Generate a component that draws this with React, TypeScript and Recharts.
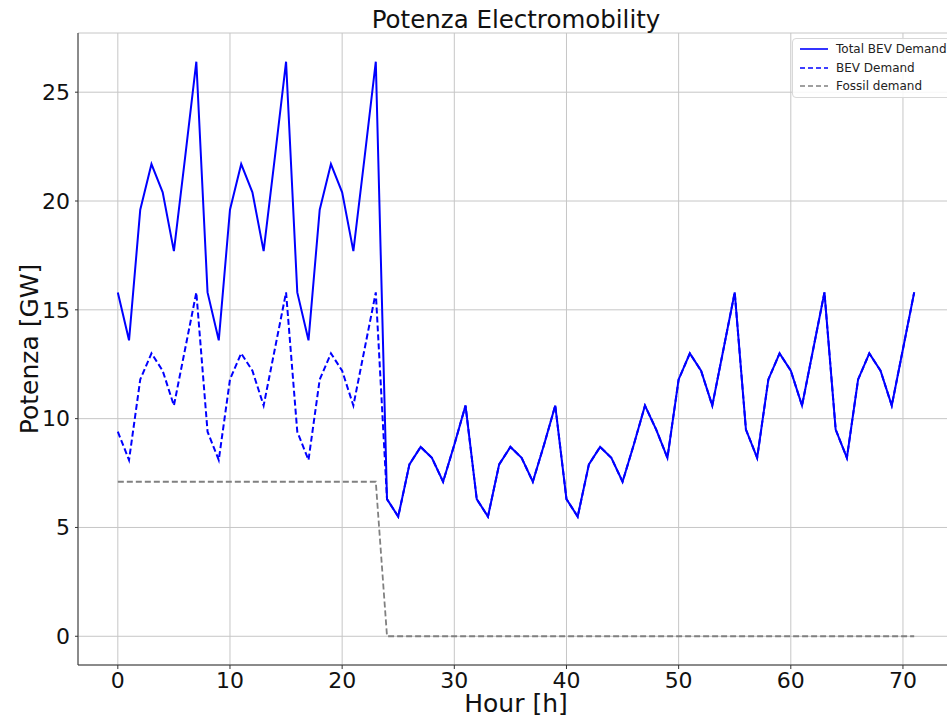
import {
  LineChart,
  Line,
  XAxis,
  YAxis,
  CartesianGrid,
} from "recharts";

// Hourly demand (GW), hours 0..71
const totalDemand = [
  15.8, 13.6, 19.6, 21.7, 20.4, 17.7, 22.0, 26.4,
  15.8, 13.6, 19.6, 21.7, 20.4, 17.7, 22.0, 26.4,
  15.8, 13.6, 19.6, 21.7, 20.4, 17.7, 22.0, 26.4,
  6.3, 5.5, 7.9, 8.7, 8.2, 7.1, 8.8, 10.6,
  6.3, 5.5, 7.9, 8.7, 8.2, 7.1, 8.8, 10.6,
  6.3, 5.5, 7.9, 8.7, 8.2, 7.1, 8.8, 10.6,
  9.5, 8.2, 11.8, 13.0, 12.2, 10.6, 13.2, 15.8,
  9.5, 8.2, 11.8, 13.0, 12.2, 10.6, 13.2, 15.8,
  9.5, 8.2, 11.8, 13.0, 12.2, 10.6, 13.2, 15.8,
];

const bevDemand = [
  9.4, 8.1, 11.8, 13.0, 12.2, 10.6, 13.2, 15.8,
  9.4, 8.1, 11.8, 13.0, 12.2, 10.6, 13.2, 15.8,
  9.4, 8.1, 11.8, 13.0, 12.2, 10.6, 13.2, 15.8,
  6.3, 5.5, 7.9, 8.7, 8.2, 7.1, 8.8, 10.6,
  6.3, 5.5, 7.9, 8.7, 8.2, 7.1, 8.8, 10.6,
  6.3, 5.5, 7.9, 8.7, 8.2, 7.1, 8.8, 10.6,
  9.5, 8.2, 11.8, 13.0, 12.2, 10.6, 13.2, 15.8,
  9.5, 8.2, 11.8, 13.0, 12.2, 10.6, 13.2, 15.8,
  9.5, 8.2, 11.8, 13.0, 12.2, 10.6, 13.2, 15.8,
];

const fossilDemand = [
  7.1, 7.1, 7.1, 7.1, 7.1, 7.1, 7.1, 7.1,
  7.1, 7.1, 7.1, 7.1, 7.1, 7.1, 7.1, 7.1,
  7.1, 7.1, 7.1, 7.1, 7.1, 7.1, 7.1, 7.1,
  0, 0, 0, 0, 0, 0, 0, 0,
  0, 0, 0, 0, 0, 0, 0, 0,
  0, 0, 0, 0, 0, 0, 0, 0,
  0, 0, 0, 0, 0, 0, 0, 0,
  0, 0, 0, 0, 0, 0, 0, 0,
  0, 0, 0, 0, 0, 0, 0, 0,
];

const xTicks = [0, 10, 20, 30, 40, 50, 60, 70];
const yTicks = [0, 5, 10, 15, 20, 25];

const seriesNames = ["Total BEV Demand", "BEV Demand", "Fossil demand"];

const FONT = '"DejaVu Sans", sans-serif';

const data = totalDemand.map((v, i) => ({
  hour: i,
  total: v,
  bev: bevDemand[i],
  fossil: fossilDemand[i],
}));

const legendItems = [
  { name: seriesNames[0], color: "#0000ff", dash: undefined },
  { name: seriesNames[1], color: "#0000ff", dash: "5 3" },
  { name: seriesNames[2], color: "#808080", dash: "5 3" },
];

function LegendBox() {
  return (
    <div
      style={{
        position: "absolute",
        top: 38,
        left: 792,
        border: "1px solid #d8d8d8",
        borderRadius: 4,
        background: "rgba(255,255,255,0.85)",
        padding: "1px 10px 1px 7px",
        fontFamily: FONT,
        fontSize: 12,
        color: "#222",
      }}
    >
      {legendItems.map((it) => (
        <div
          key={it.name}
          style={{ display: "flex", alignItems: "center", height: 18.5 }}
        >
          <svg width={28} height={8} style={{ marginRight: 8 }}>
            <line
              x1={0}
              y1={4}
              x2={28}
              y2={4}
              stroke={it.color}
              strokeWidth={1.6}
              strokeDasharray={it.dash}
            />
          </svg>
          <span style={{ whiteSpace: "nowrap" }}>{it.name}</span>
        </div>
      ))}
    </div>
  );
}

export default function App() {
  return (
    <div
      style={{
        position: "fixed",
        left: 0,
        top: 0,
        width: 947,
        height: 717,
        overflow: "hidden",
        background: "#fff",
      }}
    >
      <LineChart
        width={960}
        height={717}
        data={data}
        margin={{ top: 33, right: 6, left: 0, bottom: 0 }}
      >
        <CartesianGrid stroke="#c6c6c6" strokeWidth={1} />
        <XAxis
          dataKey="hour"
          type="number"
          domain={[-3.55, 74.55]}
          ticks={xTicks}
          allowDataOverflow
          height={52}
          stroke="#333"
          tickSize={4}
          tickMargin={3}
          tick={{ fill: "#111", fontSize: 22, fontFamily: FONT }}
          label={{
            content: (p: any) => (
              <text
                x={p.viewBox.x + p.viewBox.width / 2}
                y={p.viewBox.y + 47}
                textAnchor="middle"
                fontSize={25}
                fontFamily={FONT}
                fill="#111"
              >
                Hour [h]
              </text>
            ),
          }}
        />
        <XAxis
          xAxisId="top"
          orientation="top"
          dataKey="hour"
          type="number"
          domain={[-3.55, 74.55]}
          height={0}
          tick={false}
          tickLine={false}
          stroke="#333"
        />
        <YAxis
          type="number"
          domain={[-1.32, 27.72]}
          ticks={yTicks}
          allowDataOverflow
          width={78}
          stroke="#333"
          tickSize={3}
          tickMargin={5}
          tick={{ fill: "#111", fontSize: 22, fontFamily: FONT }}
          label={{
            content: (p: any) => {
              const cx = p.viewBox.x + 38;
              const cy = p.viewBox.y + p.viewBox.height / 2;
              return (
                <text
                  x={cx}
                  y={cy}
                  transform={`rotate(-90 ${cx} ${cy})`}
                  textAnchor="middle"
                  fontSize={25}
                  fontFamily={FONT}
                  fill="#111"
                >
                  Potenza [GW]
                </text>
              );
            },
          }}
        />
        <Line
          type="linear"
          dataKey="total"
          name={seriesNames[0]}
          stroke="#0000ff"
          strokeWidth={2}
          dot={false}
          isAnimationActive={false}
        />
        <Line
          type="linear"
          dataKey="bev"
          name={seriesNames[1]}
          stroke="#0000ff"
          strokeWidth={2}
          strokeDasharray="6 3"
          dot={false}
          isAnimationActive={false}
        />
        <Line
          type="linear"
          dataKey="fossil"
          name={seriesNames[2]}
          stroke="#808080"
          strokeWidth={1.8}
          strokeDasharray="6 3"
          dot={false}
          isAnimationActive={false}
        />
        <text
          x={516}
          y={28}
          textAnchor="middle"
          fontSize={24.5}
          fontFamily={FONT}
          fill="#111"
        >
          Potenza Electromobility
        </text>
      </LineChart>
      <LegendBox />
    </div>
  );
}
